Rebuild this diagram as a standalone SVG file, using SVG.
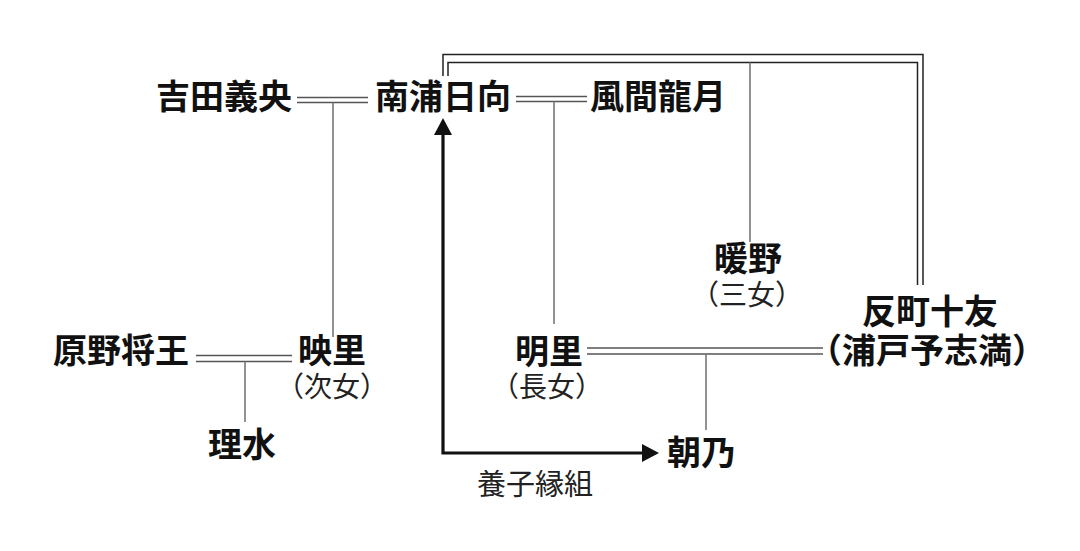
<svg xmlns="http://www.w3.org/2000/svg" width="1080" height="551" viewBox="0 0 1080 551">
<style>
.n{font-family:"Noto Sans CJK JP","Noto Sans CJK SC",sans-serif;font-weight:700;font-size:34px;fill:#111;text-anchor:middle}
.s{font-family:"Noto Sans CJK JP","Noto Sans CJK SC",sans-serif;font-weight:400;font-size:28px;fill:#222;text-anchor:middle}
.dl{stroke:#555;stroke-width:1.5;fill:none}
.vl{stroke:#777;stroke-width:1.6;fill:none}
.br{stroke:#222;stroke-width:1.5;fill:none}
.ar{stroke:#111;stroke-width:3.2;fill:none;stroke-linejoin:miter}
</style>
<rect width="1080" height="551" fill="#fff"/>
<g id="connectors">
<path class="dl" d="M297 97.5H368M297 102.5H368"/>
<path class="vl" d="M333 102.5V337"/>
<path class="dl" d="M516 96.5H587M516 101.5H587"/>
<path class="vl" d="M554 101.5V324"/>
<path class="dl" d="M196 355.5H292M196 361.5H292"/>
<path class="vl" d="M245 361.5V422"/>
<path class="dl" d="M587 348H823M587 354H823"/>
<path class="vl" d="M706 354V430"/>
<path class="br" d="M443 76V54.5H923V285"/>
<path class="br" d="M448 76V62.5H917.5V285"/>
<path class="vl" d="M750 62.5V242"/>
<path class="ar" d="M443 133V453H644"/>
<polygon points="443,118 434,135 452,135" fill="#111"/>
<polygon points="659,453 642,444 642,462" fill="#111"/>
</g>
<g id="n-yoshida"><text class="n" x="224" y="109">吉田義央</text></g>
<g id="n-minamiura"><text class="n" x="443" y="109">南浦日向</text></g>
<g id="n-kazama"><text class="n" x="658" y="109">風間龍月</text></g>
<g id="n-hino"><text class="n" x="748" y="271">暖野</text><text class="s" x="747" y="305">（三女）</text></g>
<g id="n-tanmachi"><text class="n" x="930" y="324">反町十友</text><text class="n" x="927" y="363">（浦戸予志満）</text></g>
<g id="n-akari"><text class="n" x="549" y="364">明里</text><text class="s" x="547" y="397">（長女）</text></g>
<g id="n-harano"><text class="n" x="121" y="363">原野将王</text></g>
<g id="n-eri"><text class="n" x="332" y="363">映里</text><text class="s" x="332" y="397">（次女）</text></g>
<g id="n-risui"><text class="n" x="242" y="457">理水</text></g>
<g id="n-asano"><text class="n" x="701" y="465">朝乃</text></g>
<g id="label-adoption"><text class="s" x="535" y="495" style="font-size:29px">養子縁組</text></g>
</svg>
